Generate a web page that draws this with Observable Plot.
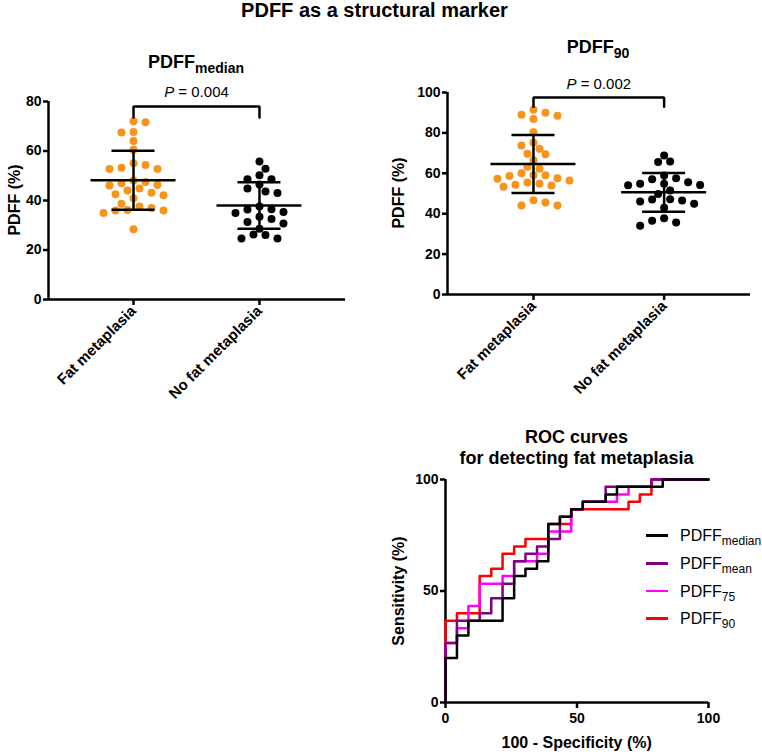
<!DOCTYPE html>
<html><head><meta charset="utf-8">
<script src="https://cdn.jsdelivr.net/npm/d3@7"></script>
<script src="https://cdn.jsdelivr.net/npm/@observablehq/plot@0.6"></script>
<style>
body{margin:0;background:#fff;}
#root{position:relative;width:762px;height:754px;overflow:hidden;font-family:"Liberation Sans",Arial,Helvetica,sans-serif;color:#000;background:#fff;}
#root svg{position:absolute;}
.abs{position:absolute;white-space:nowrap;line-height:1;}
</style></head>
<body><div id="root"></div>
<script>
// ---------------- DATA ----------------
const groups = ["Fat metaplasia", "No fat metaplasia"];

// PDFF_median (%) per subject
const medianFat = [71.6,72.0,67.5,67.7,64.0,60.5,55.1,53.2,52.7,52.7,54.3,46.3,44.8,47.5,48.1,46.1,47.0,43.1,42.1,44.0,40.9,42.5,37.6,36.2,38.7,37.0,34.9,36.0,36.0,28.4];
const medianNoFat = [55.8,52.8,50.2,48.6,48.6,46.5,44.8,43.6,43.0,37.6,36.4,36.5,35.4,35.0,33.4,32.5,31.3,30.7,28.6,26.1,24.6,24.6,26.3];
const medianMean = [48.2, 38.0];
const medianSD = [11.9, 9.4];
const medianBracket = [78, 73.5];
const medianP = "0.004";
const medianYTicks = [0, 20, 40, 60, 80];

// PDFF_90 (%) per subject
const p90Fat = [91.5,89.0,86.9,88.5,90.0,80.3,75.2,73.8,72.2,69.4,69.7,66.4,63.3,62.2,60.0,59.0,57.6,56.4,54.8,53.9,53.4,54.3,55.4,57.3,58.7,59.0,45.6,44.1,44.1,46.7];
const p90NoFat = [68.8,65.6,65.8,57.6,57.1,58.9,55.6,54.8,54.1,54.2,54.8,49.8,51.5,47.2,46.5,44.9,46.1,47.0,42.9,36.5,34.0,35.7,37.7];
const p90Mean = [64.6, 50.6];
const p90SD = [14.4, 9.6];
const p90Bracket = [97.5, 93];
const p90P = "0.002";
const p90YTicks = [0, 20, 40, 60, 80, 100];

// ROC curves: [100 - specificity %, sensitivity %]
const rocMedian = [[0,0],[0,20],[4.35,30],[8.7,36.7],[21.7,46.7],[26.1,56.7],[30.4,60],[34.8,63.3],[39.1,80],[43.5,83.3],[47.8,86.7],[52.2,90],[60.9,93.3],[65.2,96.7],[82.6,100],[100,100]];
const rocMean = [[0,0],[0,26.7],[4.35,36.7],[13,40],[17.4,46.7],[21.7,53.3],[26.1,63.3],[30.4,66.7],[34.8,70],[39.1,73.3],[43.5,83.3],[47.8,86.7],[52.2,90],[60.9,96.7],[78.3,100],[100,100]];
const roc75 = [[0,0],[0,26.7],[4.35,33.3],[8.7,43.3],[13,53.3],[21.7,56.7],[26.1,63.3],[34.8,66.7],[39.1,76.7],[47.8,86.7],[52.2,90],[65.2,93.3],[69.6,96.7],[78.3,100],[100,100]];
const roc90 = [[0,0],[0,36.7],[4.35,40],[13,56.7],[17.4,60],[21.7,66.7],[26.1,70],[30.4,73.3],[39.1,80],[47.8,86.7],[69.6,90],[73.9,93.3],[78.3,100],[100,100]];
const rocNames = ["median", "mean", "75", "90"];
const rocColors = ["#000000", "#800080", "#FF00FF", "#FF0000"];
const rocTicks = [0, 50, 100];

// ---------------- LAYOUT ----------------
const root = document.getElementById("root");
const FONT = "Liberation Sans, Arial, Helvetica, sans-serif";
const ORANGE = "#F7941D";
const LW = 2.5;

function textAt(html, cx, cy, {size = 16, weight = "bold", rotate = 0, anchor = "middle"} = {}) {
  const d = document.createElement("div");
  d.className = "abs";
  d.innerHTML = html;
  d.style.fontSize = size + "px";
  d.style.fontWeight = weight;
  d.style.left = cx + "px";
  d.style.top = cy + "px";
  const tx = anchor === "start" ? "0" : "-50%";
  d.style.transform = `translate(${tx},-50%)` + (rotate ? ` rotate(${rotate}deg)` : "");
  root.appendChild(d);
  return d;
}
const sub = (t, size, off) => `<span style="font-size:${size}px;position:relative;top:${off}px">${t}</span>`;

function swarm(vals, ky, step = 6, minD = 8.2) {
  const placed = [], offs = new Array(vals.length);
  const order = d3.range(vals.length).sort((a, b) => vals[b] - vals[a]);
  let flip = 1;
  for (const i of order) {
    const y = vals[i] * ky;
    for (let k = 0; k < 60; k++) {
      const off = k === 0 ? 0 : (k % 2 ? flip : -flip) * Math.ceil(k / 2) * step;
      if (placed.every(p => (p[0] - off) ** 2 + (p[1] - y) ** 2 >= minD * minD)) {
        offs[i] = off; placed.push([off, y]); if (off !== 0) flip = -flip; break;
      }
    }
  }
  return offs;
}

function italicP(svg) {
  svg.querySelectorAll("text").forEach(t => {
    const s = t.textContent;
    if (s.startsWith("P = ")) {
      t.textContent = "";
      const ts = document.createElementNS("http://www.w3.org/2000/svg", "tspan");
      ts.setAttribute("font-style", "italic");
      ts.textContent = "P";
      t.appendChild(ts);
      t.appendChild(document.createTextNode(s.slice(1)));
    }
  });
}

function scatterPanel(c) {
  const {fat, noFat, mean, sd, yMax, yTicks, bracket, p, xDomain, W, H, m} = c;
  const innerW = W - m.l - m.r, innerH = H - m.t - m.b;
  const kx = innerW / (xDomain[1] - xDomain[0]);
  const ky = innerH / yMax;
  const rows = (vals, g) => { const o = swarm(vals, ky); return vals.map((v, i) => ({g, v, x: g + o[i] / kx})); };
  const fatRows = rows(fat, 0), noRows = rows(noFat, 1);
  const stats = mean.map((mu, g) => ({g, mu, lo: mu - sd[g], hi: mu + sd[g]}));
  const caps = stats.flatMap(s => [{g: s.g, y: s.lo}, {g: s.g, y: s.hi}]);
  const mh = 42.5 / kx, ch = 21.5 / kx;
  const br = [{x: 0, y: bracket[1]}, {x: 0, y: bracket[0]}, {x: 1, y: bracket[0]}, {x: 1, y: bracket[1]}];
  const svg = Plot.plot({
    width: W, height: H,
    marginLeft: m.l, marginRight: m.r, marginTop: m.t, marginBottom: m.b,
    x: {domain: xDomain},
    y: {domain: [0, yMax]},
    style: {background: "transparent", fontFamily: FONT, fontSize: "14px", fontWeight: "bold", color: "#000", overflow: "visible"},
    marks: [
      Plot.dot(fatRows, {x: "x", y: "v", r: 4, fill: ORANGE}),
      Plot.dot(noRows, {x: "x", y: "v", r: 4, fill: "#000"}),
      Plot.ruleY(stats, {y: "mu", x1: d => d.g - mh, x2: d => d.g + mh, strokeWidth: LW}),
      Plot.ruleX(stats, {x: "g", y1: "lo", y2: "hi", strokeWidth: LW}),
      Plot.ruleY(caps, {y: "y", x1: d => d.g - ch, x2: d => d.g + ch, strokeWidth: LW}),
      Plot.line(br, {x: "x", y: "y", strokeWidth: LW, strokeLinejoin: "miter"}),
      Plot.text([p], {x: () => 0.5, y: () => bracket[0], text: d => "P = " + d, dy: -9, lineAnchor: "bottom", fontSize: 15, fontWeight: "normal"}),
      Plot.ruleY([0], {strokeWidth: LW}),
      Plot.ruleX([xDomain[0]], {strokeWidth: LW}),
      Plot.axisY({ticks: yTicks, tickSize: 5, tickPadding: 2, strokeWidth: LW, label: null}),
      Plot.axisX({ticks: [0, 1], tickFormat: i => groups[i], tickRotate: -45, tickSize: 6, tickPadding: 3, strokeWidth: LW, fontSize: 15, label: null})
    ]
  });
  italicP(svg);
  return svg;
}

// Panel 1: PDFF_median
const svg1 = scatterPanel({
  fat: medianFat, noFat: medianNoFat, mean: medianMean, sd: medianSD,
  yMax: 80, yTicks: medianYTicks, bracket: medianBracket, p: medianP,
  xDomain: [-0.675, 1.683], W: 380, H: 390, m: {l: 48, r: 35, t: 61, b: 131}
});
svg1.style.left = "0px"; svg1.style.top = "40px";
root.appendChild(svg1);

// Panel 2: PDFF_90
const svg2 = scatterPanel({
  fat: p90Fat, noFat: p90NoFat, mean: p90Mean, sd: p90SD,
  yMax: 100, yTicks: p90YTicks, bracket: p90Bracket, p: p90P,
  xDomain: [-0.658, 1.661], W: 382, H: 390, m: {l: 67, r: 12, t: 52, b: 136}
});
svg2.style.left = "380px"; svg2.style.top = "40px";
root.appendChild(svg2);

// Panel 3: ROC
const rocSets = [rocMedian, rocMean, roc75, roc90];
const rocLines = [3, 2, 1, 0].map(i => Plot.line(rocSets[i], {x: d => d[0], y: d => d[1], stroke: rocColors[i], strokeWidth: LW, curve: "step-after"}));
const svg3 = Plot.plot({
  width: 382, height: 284,
  marginLeft: 65, marginRight: 54, marginTop: 9, marginBottom: 52,
  x: {domain: [0, 100]},
  y: {domain: [0, 100]},
  style: {background: "transparent", fontFamily: FONT, fontSize: "14px", fontWeight: "bold", color: "#000", overflow: "visible"},
  marks: [
    Plot.ruleY([0], {strokeWidth: LW}),
    Plot.ruleX([0], {strokeWidth: LW}),
    ...rocLines,
    Plot.axisY({ticks: rocTicks, tickSize: 5, tickPadding: 2, strokeWidth: LW, label: null}),
    Plot.axisX({ticks: rocTicks, tickSize: 6, tickPadding: 5, strokeWidth: LW, label: null})
  ]
});
svg3.style.left = "380px"; svg3.style.top = "470px";
root.appendChild(svg3);

// ---------------- TEXT ----------------
textAt("PDFF as a structural marker", 374.5, 9.5, {size: 20});
textAt("PDFF" + sub("median", 14, 5), 196, 62, {size: 18});
textAt("PDFF" + sub("90", 14, 5), 598, 47, {size: 18});
textAt("PDFF (%)", 15, 200, {size: 16, rotate: -90});
textAt("PDFF (%)", 399, 193, {size: 16, rotate: -90});
textAt("ROC curves", 576.5, 436.5, {size: 18});
textAt("for detecting fat metaplasia", 576.5, 457.5, {size: 18});
textAt("Sensitivity (%)", 398.5, 591, {size: 16, rotate: -90});
textAt("100 - Specificity (%)", 576.7, 743.3, {size: 16});

// legend
rocNames.forEach((n, i) => {
  const y = 535.7 + i * 27.7;
  const ln = document.createElement("div");
  ln.className = "abs";
  ln.style.left = "646px"; ln.style.top = (y - 1.35) + "px";
  ln.style.width = "22px"; ln.style.height = "2.7px"; ln.style.background = rocColors[i];
  root.appendChild(ln);
  textAt("PDFF" + sub(n, 12, 4), 680, y + 0.5, {size: 16, weight: "normal", anchor: "start"});
});
</script>
</body></html>
